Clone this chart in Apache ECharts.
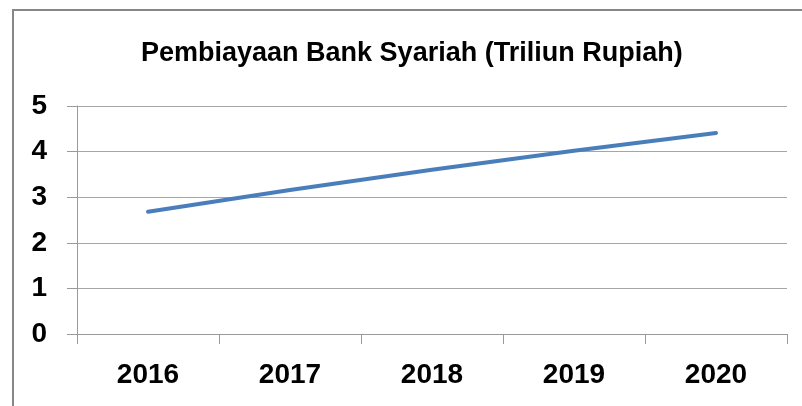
<!DOCTYPE html>
<html>
<head>
<meta charset="utf-8">
<script src="https://cdn.jsdelivr.net/npm/echarts@6/dist/echarts.min.js"></script>
<style>
  html, body { margin: 0; padding: 0; background: #fff; }
  #main { width: 802px; height: 406px; }
</style>
</head>
<body>
<div id="main"></div>
<script>
// data
var years = ['2016', '2017', '2018', '2019', '2020'];
var pembiayaan = [2.68, 3.16, 3.6, 4.02, 4.41];
var titleText = 'Pembiayaan Bank Syariah (Triliun Rupiah)';

var fontFam = '"Liberation Sans", Arial, sans-serif';
var chart = echarts.init(document.getElementById('main'));

var option = {
  animation: false,
  backgroundColor: '#fff',
  graphic: [{
    type: 'rect',
    shape: { x: 13, y: 10, width: 900, height: 500 },
    style: { fill: 'none', stroke: '#878787', lineWidth: 2 },
    silent: true
  }],
  title: {
    text: titleText,
    left: 141,
    top: 40,
    padding: 0,
    textStyle: { fontFamily: fontFam, fontWeight: 'bold', fontSize: 27, color: '#000' }
  },
  grid: { left: 77, right: 15, top: 106, bottom: 72, containLabel: false },
  xAxis: {
    type: 'category',
    data: years,
    boundaryGap: true,
    axisLine: { lineStyle: { color: '#9a9a9a', width: 1 } },
    axisTick: { show: true, length: 10, lineStyle: { color: '#9a9a9a' } },
    axisLabel: { fontFamily: fontFam, fontWeight: 'bold', fontSize: 28, color: '#000', margin: 27 }
  },
  yAxis: {
    type: 'value',
    min: 0, max: 5, interval: 1,
    axisLine: { show: true, lineStyle: { color: '#9a9a9a', width: 1 } },
    axisTick: { show: true, length: 10, lineStyle: { color: '#9a9a9a' } },
    splitLine: { lineStyle: { color: '#a6a6a6', width: 1 } },
    axisLabel: { fontFamily: fontFam, fontWeight: 'bold', fontSize: 28, color: '#000', margin: 30 }
  },
  series: [{
    type: 'line',
    data: pembiayaan,
    symbol: 'none',
    lineStyle: { color: '#4a7ebb', width: 4, cap: 'round' },
    itemStyle: { color: '#4a7ebb' }
  }]
};
chart.setOption(option);
</script>
</body>
</html>
